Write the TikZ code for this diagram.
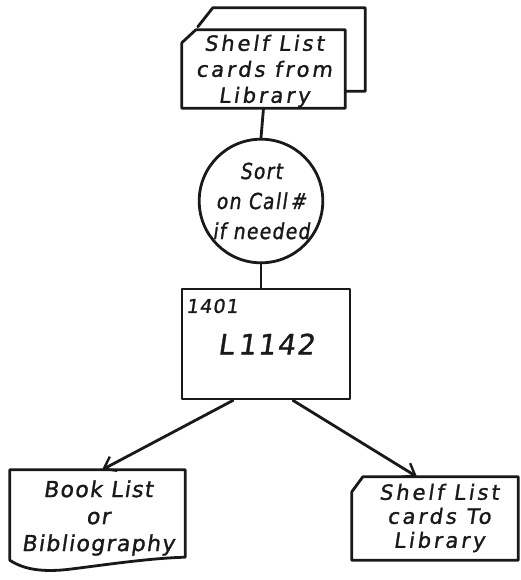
\documentclass[tikz,border=0pt]{standalone}
\usepackage{fontspec}
\newfontfamily\handA{DejaVu Sans}[FakeSlant=0.15,FakeBold=1.2,LetterSpace=14]
\newfontfamily\handB{DejaVu Sans}[FakeSlant=0.15,FakeBold=1.2,LetterSpace=6]
\newfontfamily\handC{DejaVu Sans}[FakeSlant=0.15,FakeBold=1.2,FakeStretch=0.85,LetterSpace=6]
\usetikzlibrary{arrows.meta,calc}
\begin{document}
\begin{tikzpicture}[x=1pt,y=-1pt,
  ink/.style={line width=2.8pt,draw=black!90,line join=round,line cap=round},
  frame/.style={rectangle,draw=none,inner sep=0pt},
  txt/.style={align=center,inner sep=0pt,text=black!90},
  arr/.style={ink,-{Straight Barb[length=11pt,width=16pt,line width=2.4pt]}}]
\useasboundingbox[fill=white] (0,0) rectangle (520,580);
% top card (back and front)
\node[frame,minimum width=167pt,minimum height=83pt] (card0) at (281.5,49.5) {};
\node[frame,minimum width=163pt,minimum height=78pt] (card1) at (263.5,69) {};
\draw[ink] ($(card0.north west)+(0,19)$) -- ($(card0.north west)+(15,0)$) -- (card0.north east) -- (card0.south east) -- ($(card0.south east)+(-20,0)$);
\draw[ink] ($(card1.north west)+(0,13)$) -- ($(card1.north west)+(14,0)$) -- (card1.north east) -- (card1.south east) -- (card1.south west) -- cycle;
\node[txt,font=\handA\fontsize{21}{26}\selectfont] (t1) at (264,71) {Shelf List\\cards from\\Library};
% sort circle
\node[circle,ink,minimum size=114pt,inner sep=0pt,txt,font=\handC\fontsize{22}{30}\selectfont] (sort) at (261,201) {Sort\\on Call\,\#\\if needed};
% process box
\node[rectangle,ink,minimum width=168pt,minimum height=110pt,txt,font=\handB\fontsize{28}{30}\selectfont] (box) at (266,344) {L\,1142};
\node[txt,font=\handB\fontsize{19}{22}\selectfont] (n1401) at (212,306) {1401};
% document shape
\node[frame,minimum width=175pt,minimum height=87pt] (doc) at (97.5,513.5) {};
\draw[ink] (doc.south east) -- (doc.north east) -- (doc.north west) -- ($(doc.south west)+(0,3)$)
  .. controls ($(doc.south west)+(15,13)$) and ($(doc.south west)+(35,15)$) .. ($(doc.south west)+(60,12)$)
  .. controls ($(doc.south west)+(100,7)$) and ($(doc.south west)+(140,1)$) .. (doc.south east);
\node[txt,font=\handB\fontsize{22}{27}\selectfont] (doctext) at (98,518) {Book List\\or\\Bibliography};
% bottom right card
\node[frame,minimum width=166pt,minimum height=83pt] (card2) at (435,518.5) {};
\draw[ink] ($(card2.north west)+(0,15)$) -- ($(card2.north west)+(11,0)$) -- (card2.north east) -- (card2.south east) -- (card2.south west) -- cycle;
\node[txt,font=\handA\fontsize{21}{24}\selectfont] (t2) at (439,518) {Shelf List\\cards To\\Library};
% connectors
\draw[ink] (card1.south) -- (sort.north);
\draw[ink] (sort.south) -- (sort.south |- box.north);
\draw[arr] ([xshift=-33pt]box.south) -- ([xshift=4.5pt]doc.north);
\draw[arr] ([xshift=27pt]box.south) -- ([xshift=-18pt]card2.north);
\end{tikzpicture}
\end{document}
